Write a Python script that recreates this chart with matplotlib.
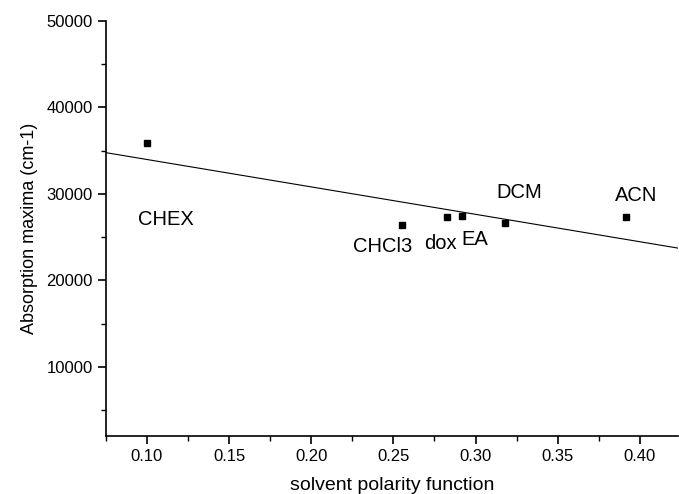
import matplotlib.pyplot as plt
from matplotlib.ticker import MultipleLocator

plt.rcParams['font.family'] = ['Liberation Sans', 'DejaVu Sans']

# solvent data
solvents = ["CHEX", "CHCl3", "dox", "EA", "DCM", "ACN"]
polarity = [0.100, 0.255, 0.2826, 0.2917, 0.318, 0.3915]
abs_max = [35900, 26350, 27300, 27400, 26600, 27350]

# label positions (data coords)
label_x = [0.1116, 0.2436, 0.2788, 0.2996, 0.3266, 0.3976]
label_y = [27000, 23900, 24300, 24700, 30100, 29850]

# linear fit line end points
fit_x = [0.075, 0.423]
fit_y = [34760, 23740]

fig = plt.figure(figsize=(6.79, 4.94), dpi=100)
ax = fig.add_axes([0.156, 0.117, 0.842, 0.841])

ax.plot(fit_x, fit_y, color="black", linewidth=0.8)
ax.plot(polarity, abs_max, linestyle="none", marker="s", color="black", markersize=4.8)

for s, lx, ly in zip(solvents, label_x, label_y):
    ax.text(lx, ly, s, fontsize=14.5, ha="center", va="center")

ax.set_xlim(0.075, 0.423)
ax.set_ylim(2000, 50000)
ax.xaxis.set_minor_locator(MultipleLocator(0.025))
ax.yaxis.set_minor_locator(MultipleLocator(5000))
ax.set_xticks([0.10, 0.15, 0.20, 0.25, 0.30, 0.35, 0.40])
ax.set_xticklabels(["0.10", "0.15", "0.20", "0.25", "0.30", "0.35", "0.40"])
ax.set_yticks([10000, 20000, 30000, 40000, 50000])

ax.spines["top"].set_visible(False)
ax.spines["right"].set_visible(False)
ax.spines["left"].set_linewidth(1.2)
ax.spines["bottom"].set_linewidth(1.2)
ax.tick_params(which="major", direction="out", length=6, width=1.2, labelsize=12)
ax.tick_params(which="minor", direction="out", length=3.5, width=1.0)

ax.set_xlabel("solvent polarity function", fontsize=14, labelpad=9)
ax.set_ylabel("Absorption maxima (cm-1)", fontsize=13, labelpad=6)

fig.savefig("out.png", dpi=100)
